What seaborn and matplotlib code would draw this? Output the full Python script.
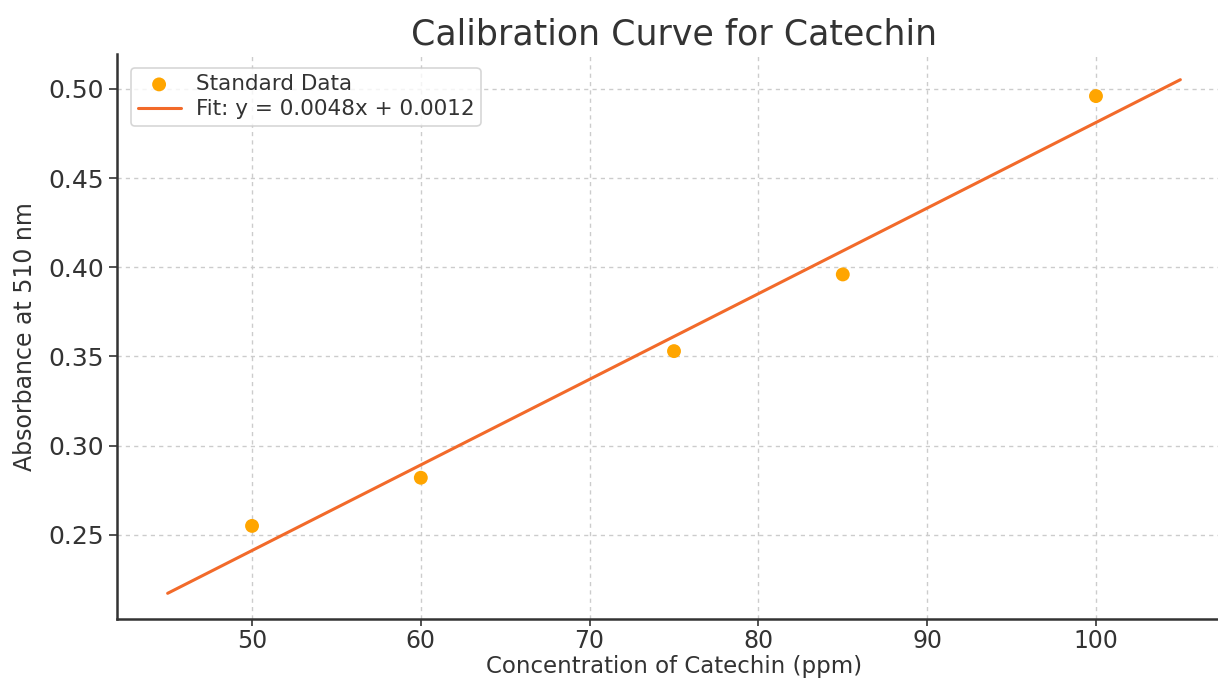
import numpy as np
import pandas as pd
import seaborn as sns
import matplotlib
matplotlib.use("Agg")
import matplotlib.pyplot as plt

# Data
concentration = [50, 60, 75, 85, 100]
absorbance = [0.255, 0.282, 0.353, 0.396, 0.496]
fit_slope = 0.0048
fit_intercept = 0.0012
fit_x_range = [45, 105]

title = "Calibration Curve for Catechin"
xlabel = "Concentration of Catechin (ppm)"
ylabel = "Absorbance at 510 nm"

sns.set_style("ticks")
plt.rcParams['font.family'] = ['DejaVu Sans']
text_color = "#333333"
plt.rcParams.update({
    'text.color': text_color,
    'axes.labelcolor': text_color,
    'xtick.color': text_color,
    'ytick.color': text_color,
})

fig = plt.figure(figsize=(12.18, 6.8), dpi=100)
ax = fig.add_axes([117/1218, 61/680, 1114/1218, 565/680])

df = pd.DataFrame({"x": concentration, "y": absorbance})
fit_x = np.linspace(fit_x_range[0], fit_x_range[1], 100)
fit_df = pd.DataFrame({"x": fit_x, "y": fit_slope * fit_x + fit_intercept})

sns.scatterplot(data=df, x="x", y="y", ax=ax, color="#FFA500", s=100,
                edgecolor="none", label="Standard Data", zorder=3)
sns.lineplot(data=fit_df, x="x", y="y", ax=ax, color="#F26A2A", linewidth=2.2,
             label=f"Fit: y = {fit_slope}x + {fit_intercept}", zorder=2)

ax.set_xlim(42, 108)
ax.set_ylim(0.2028, 0.5196)
ax.set_yticks([0.25, 0.30, 0.35, 0.40, 0.45, 0.50])
ax.set_yticklabels([f"{v:.2f}" for v in [0.25, 0.30, 0.35, 0.40, 0.45, 0.50]])
ax.set_xticks([50, 60, 70, 80, 90, 100])

ax.grid(True, linestyle=(0, (3, 3)), color="#cccccc", linewidth=1.0)
ax.set_axisbelow(True)
for s in ["top", "right"]:
    ax.spines[s].set_visible(False)
for s in ["left", "bottom"]:
    ax.spines[s].set_color("#333333")
    ax.spines[s].set_linewidth(1.8)
ax.tick_params(axis="y", labelsize=18, length=6, width=1.2, colors=text_color)
ax.tick_params(axis="x", labelsize=17, length=5, width=1.2, pad=2.5, colors=text_color)

ax.set_title(title, fontsize=25, color=text_color, pad=7)
ax.set_xlabel(xlabel, fontsize=16.5, labelpad=1)
ax.set_ylabel(ylabel, fontsize=17, labelpad=8)

leg = ax.legend(loc="upper left", fontsize=15.5, frameon=True, borderpad=0.3,
                labelspacing=0.25, handlelength=2.0, handletextpad=0.7,
                bbox_to_anchor=(0.003, 0.995))
leg.get_frame().set_edgecolor("#cccccc")
leg.get_frame().set_linewidth(1.2)

fig.savefig("out.png", dpi=100)
